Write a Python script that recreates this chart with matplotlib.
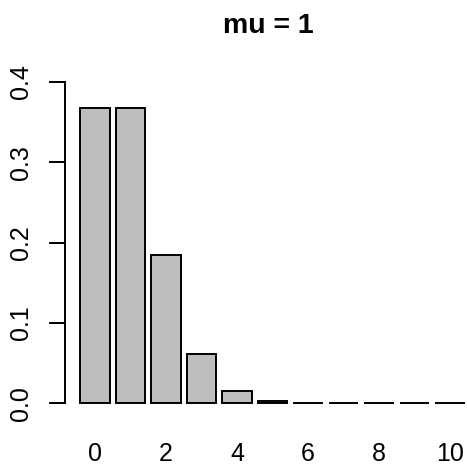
import matplotlib
matplotlib.use("Agg")
import matplotlib.pyplot as plt

# Poisson probabilities for mu = 1, k = 0..10
counts = list(range(11))
probs = [0.3679, 0.3679, 0.1839, 0.0613, 0.0153, 0.0031,
         0.0005, 0.0001, 0.0000, 0.0000, 0.0000]
tick_counts = [0, 2, 4, 6, 8, 10]
yticks = [0.0, 0.1, 0.2, 0.3, 0.4]
ylabels = ["0.0", "0.1", "0.2", "0.3", "0.4"]

plt.rcParams['font.family'] = ['Liberation Sans', 'DejaVu Sans']
narrow = ['Liberation Sans Narrow', 'Liberation Sans', 'DejaVu Sans']

W, H = 467, 474
fig = plt.figure(figsize=(W / 100, H / 100), dpi=100)

# plot region in pixels (R-style: 4% padding around the data range)
left, right, top, bottom = 64.6, 480.4, 69, 416
ax = fig.add_axes([left / W, 1 - bottom / H, (right - left) / W, (bottom - top) / H])

ax.bar(counts, probs, width=1 / 1.2, color="#bebebe", edgecolor="black", linewidth=1.4)
ax.set_xlim(-0.85, 10.85)
ax.set_ylim(-0.016, 0.416)

for s in ["top", "right", "bottom"]:
    ax.spines[s].set_visible(False)
ax.spines["left"].set_bounds(0, 0.4)
ax.spines["left"].set_linewidth(1.4)

ax.set_yticks(yticks)
ax.set_yticklabels(ylabels, rotation=90, va="center", fontsize=18, family=narrow)
ax.tick_params(axis="y", length=11.5, width=1.4, pad=11)

ax.set_xticks(tick_counts)
ax.set_xticklabels([str(c) for c in tick_counts], fontsize=18, family=narrow)
ax.tick_params(axis="x", length=0, pad=19)

fig.text(268 / W, 1 - 33 / H, "mu = 1", ha="center", va="baseline",
         fontsize=20.5, fontweight="bold")

fig.savefig("out.png", dpi=100)
